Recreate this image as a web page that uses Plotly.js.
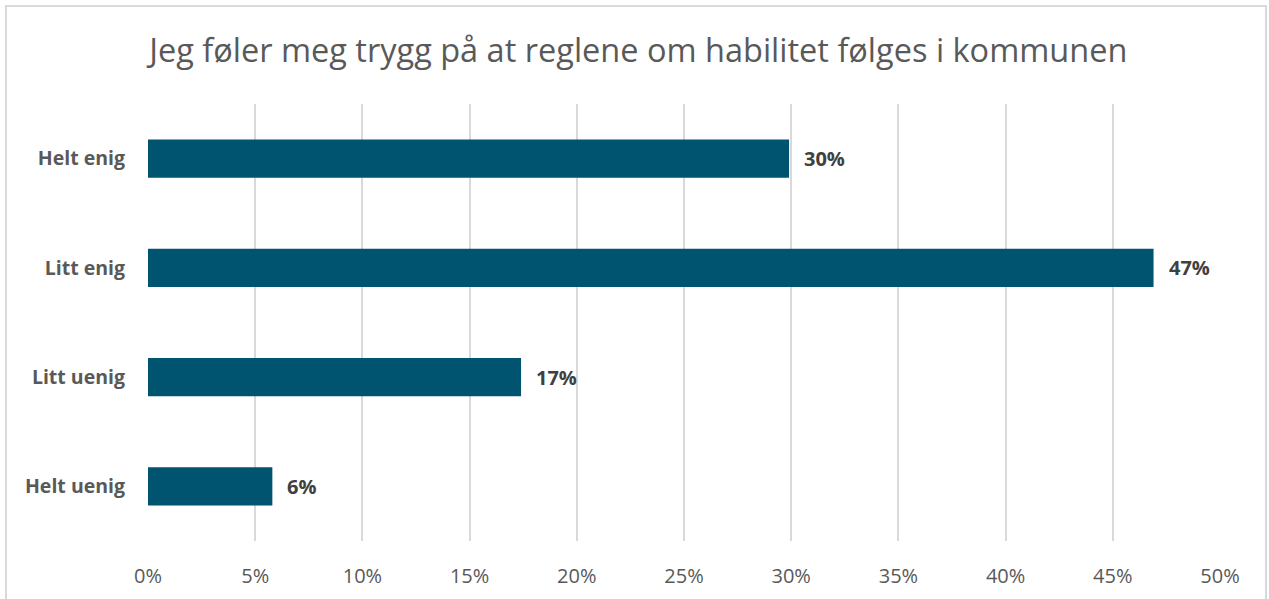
<!DOCTYPE html>
<html>
<head>
<meta charset="utf-8">
<script src="https://cdn.plot.ly/plotly-3.0.1.min.js"></script>
<style>
html,body{margin:0;padding:0;background:#fff;}
#wrap{position:relative;width:1269px;height:599px;overflow:hidden;}
#chart{width:1269px;height:599px;}
#frame{position:absolute;left:5px;top:5px;width:1262px;height:600px;border:2px solid #d9d9d9;pointer-events:none;box-sizing:border-box;}
</style>
</head>
<body>
<div id="wrap"><div id="chart"></div><div id="frame"></div></div>
<script>
const categories = ["Helt enig", "Litt enig", "Litt uenig", "Helt uenig"];
const values = [0.299, 0.469, 0.174, 0.058];
const labels = ["30%", "47%", "17%", "6%"];
const tickVals = [0, 0.05, 0.10, 0.15, 0.20, 0.25, 0.30, 0.35, 0.40, 0.45, 0.50];
const tickText = ["0%", "5%", "10%", "15%", "20%", "25%", "30%", "35%", "40%", "45%", "50%"];

const FONT = "'Open Sans', 'Liberation Sans', sans-serif";

const trace = {
  type: 'bar',
  orientation: 'h',
  x: values,
  y: categories,
  marker: {color: '#00546f'},
  hoverinfo: 'skip'
};

const annotations = categories.map((c, i) => ({
  x: values[i], y: c, xref: 'x', yref: 'y',
  text: '<b>' + labels[i] + '</b>',
  showarrow: false, xanchor: 'left', xshift: 13,
  font: {family: FONT, size: 20, color: '#404040'}
}));

const layout = {
  width: 1269, height: 599,
  margin: {l: 148, r: 49, t: 104, b: 58},
  paper_bgcolor: '#ffffff', plot_bgcolor: '#ffffff',
  title: {
    text: 'Jeg føler meg trygg på at reglene om habilitet følges i kommunen',
    font: {family: FONT, size: 32.5, color: '#595959'},
    x: 0.503, xanchor: 'center', y: 0.915, yanchor: 'middle'
  },
  bargap: 0.65,
  showlegend: false,
  xaxis: {
    range: [0, 0.5],
    tickvals: tickVals, ticktext: tickText,
    showgrid: true, gridcolor: '#d9d9d9', gridwidth: 2,
    zeroline: false, showline: false, ticks: '',
    ticklabelstandoff: 21,
    tickfont: {family: FONT, size: 20, color: '#595959'},
    fixedrange: true
  },
  yaxis: {
    categoryorder: 'array', categoryarray: categories.slice().reverse(),
    autorange: true,
    showgrid: false, zeroline: false, showline: false, ticks: '',
    ticklabelstandoff: 22,
    tickfont: {family: FONT, size: 19.5, color: '#595959', weight: 'bold'},
    fixedrange: true
  },
  annotations: annotations
};

Plotly.newPlot('chart', [trace], layout, {displayModeBar: false, staticPlot: true});
</script>
</body>
</html>
